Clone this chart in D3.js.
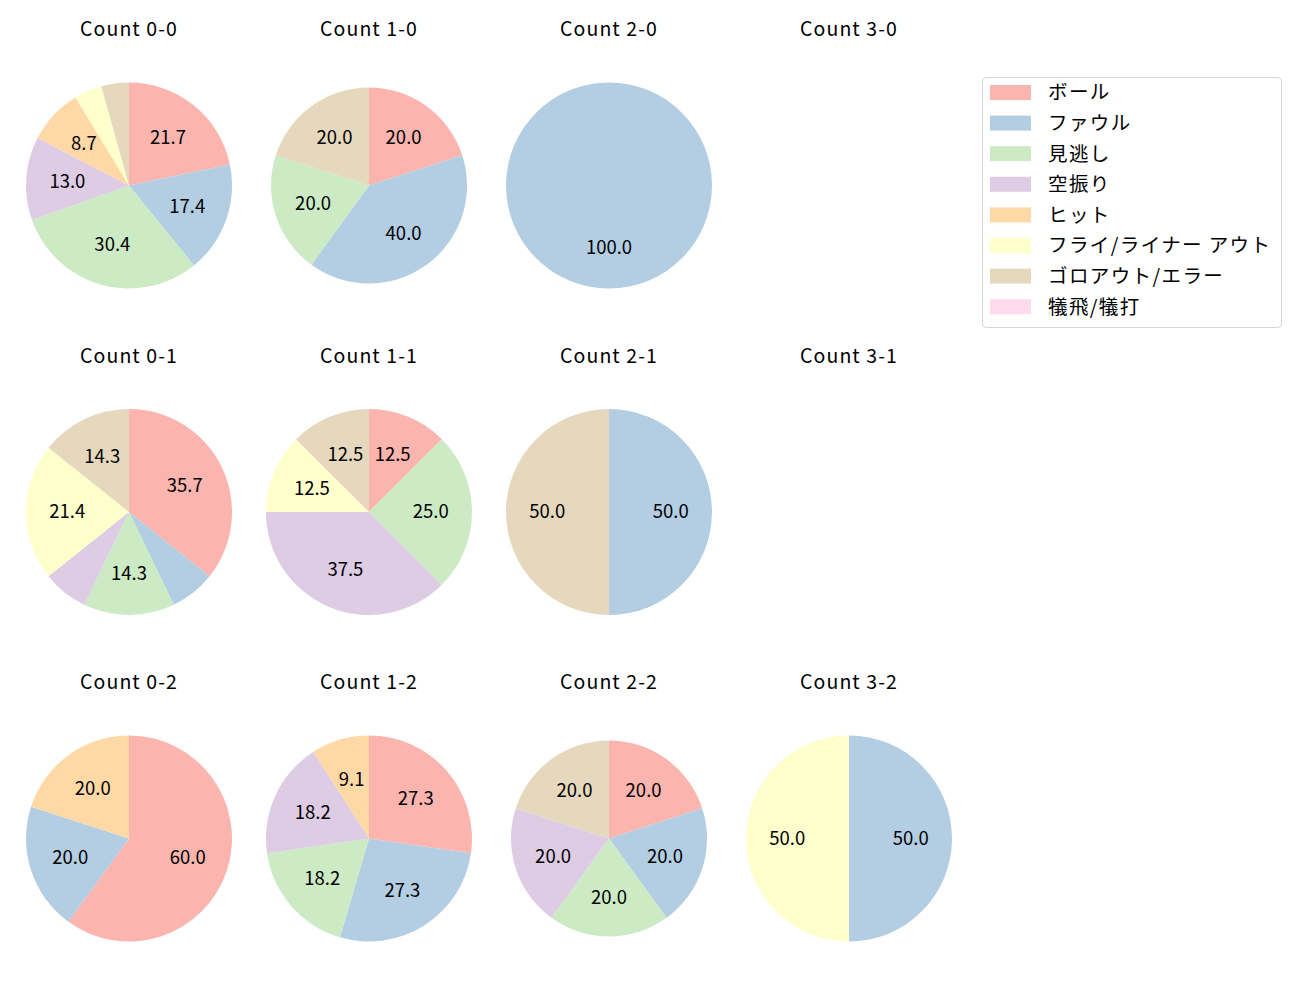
<!DOCTYPE html>
<html>
<head>
<meta charset="utf-8">
<script src="https://cdn.jsdelivr.net/npm/d3@7"></script>
<style>
  body { margin: 0; background: #fff; }
  svg { font-family: "Noto Sans CJK JP", "Noto Sans", sans-serif; }
</style>
</head>
<body>
<svg id="chart" width="1300" height="1000"></svg>
<script>
// result categories (legend order)
var categories = ["ボール", "ファウル", "見逃し", "空振り", "ヒット",
                  "フライ/ライナー アウト", "ゴロアウト/エラー", "犠飛/犠打"];
var colors = ["#fbb4ae", "#b3cde3", "#ccebc5", "#decbe4", "#fed9a6",
              "#ffffcc", "#e5d8bd", "#fddaec"];

// counts per panel, in category order; balls / strikes
var balls = [0, 1, 2, 3];
var strikes = [0, 1, 2];
var count00 = [5, 4, 7, 3, 2, 1, 1, 0];
var count10 = [1, 2, 1, 0, 0, 0, 1, 0];
var count20 = [0, 1, 0, 0, 0, 0, 0, 0];
var count30 = [];
var count01 = [5, 1, 2, 1, 0, 3, 2, 0];
var count11 = [1, 0, 2, 3, 0, 1, 1, 0];
var count21 = [0, 1, 0, 0, 0, 0, 1, 0];
var count31 = [];
var count02 = [3, 1, 0, 0, 1, 0, 0, 0];
var count12 = [3, 3, 2, 2, 1, 0, 0, 0];
var count22 = [1, 1, 1, 1, 0, 0, 1, 0];
var count32 = [0, 1, 0, 0, 0, 1, 0, 0];

var panels = [
  {b: 0, s: 0, v: count00}, {b: 1, s: 0, v: count10}, {b: 2, s: 0, v: count20}, {b: 3, s: 0, v: count30},
  {b: 0, s: 1, v: count01}, {b: 1, s: 1, v: count11}, {b: 2, s: 1, v: count21}, {b: 3, s: 1, v: count31},
  {b: 0, s: 2, v: count02}, {b: 1, s: 2, v: count12}, {b: 2, s: 2, v: count22}, {b: 3, s: 2, v: count32}
];

var svg = d3.select("#chart");

var x = d3.scalePoint().domain(balls).range([129, 849]);
var y = d3.scalePoint().domain(strikes).range([185.5, 838.5]);
var z = d3.scaleOrdinal().domain(d3.range(categories.length)).range(colors);

// a couple of pies come out a bit smaller in the original
function radiusFor(p) {
  return (p.b === 1 && p.s === 0) || (p.b === 2 && p.s === 2) ? 98 : 103;
}

var pie = d3.pie().sort(null).value(function(d) { return d.value; });
var fmt = d3.format(".1f");

panels.forEach(function(p) {
  var g = svg.append("g")
      .attr("transform", "translate(" + x(p.b) + "," + y(p.s) + ")");

  g.append("text")
      .attr("y", -149.5)
      .attr("text-anchor", "middle")
      .style("font-size", "19.5px")
      .style("letter-spacing", "1.1px")
      .attr("fill", "#000")
      .text("Count " + p.b + "-" + p.s);

  if (!p.v.length) return;

  var r = radiusFor(p);
  var total = d3.sum(p.v);
  var arcs = pie(p.v.map(function(v, i) { return {key: i, value: v}; }));
  var arc = d3.arc().innerRadius(0).outerRadius(r);
  var labelArc = d3.arc().innerRadius(r * 0.6).outerRadius(r * 0.6);

  g.selectAll("path")
    .data(arcs.filter(function(d) { return d.data.value > 0; }))
    .enter().append("path")
      .attr("d", arc)
      .attr("fill", function(d) { return z(d.data.key); });

  g.selectAll(".lbl")
    .data(arcs.filter(function(d) { return d.data.value / total * 100 >= 8; }))
    .enter().append("text")
      .attr("class", "lbl")
      .attr("transform", function(d) { return "translate(" + labelArc.centroid(d) + ")"; })
      .attr("text-anchor", "middle")
      .attr("dy", "0.35em")
      .style("font-size", "18.5px")
      .attr("fill", "#000")
      .text(function(d) { return fmt(d.data.value / total * 100); });
});

// legend
var legend = svg.append("g").attr("transform", "translate(982,77)");
legend.append("rect")
    .attr("x", 0.5).attr("y", 0.5)
    .attr("width", 299).attr("height", 250)
    .attr("rx", 4)
    .attr("fill", "#fff")
    .attr("stroke", "#d5d5d5");

var item = legend.selectAll(".item")
  .data(categories)
  .enter().append("g")
    .attr("class", "item")
    .attr("transform", function(d, i) { return "translate(0," + (15.5 + i * 30.6) + ")"; });

item.append("rect")
    .attr("x", 8).attr("y", -7.5)
    .attr("width", 41).attr("height", 15)
    .attr("fill", function(d, i) { return z(i); });

item.append("text")
    .attr("x", 66)
    .attr("dy", "0.35em")
    .style("font-size", "19.5px")
    .style("letter-spacing", "1.4px")
    .attr("fill", "#000")
    .text(function(d) { return d; });
</script>
</body>
</html>
